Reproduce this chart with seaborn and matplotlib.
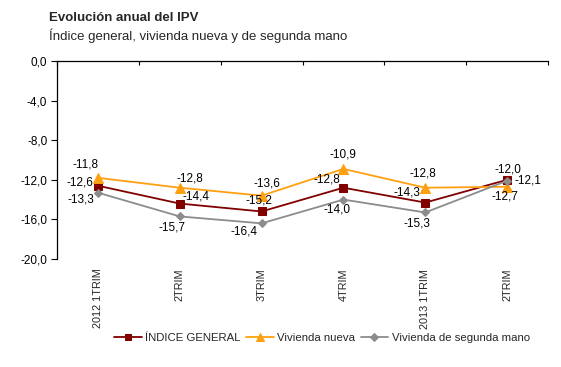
import matplotlib
matplotlib.use("Agg")
import matplotlib.pyplot as plt
import numpy as np
import pandas as pd
import seaborn as sns

# --- data ---
trimestres = ["2012 1TRIM", "2TRIM", "3TRIM", "4TRIM", "2013 1TRIM", "2TRIM"]
series_names = ["ÍNDICE GENERAL", "Vivienda nueva", "Vivienda de segunda mano"]
indice_general = [-12.6, -14.4, -15.2, -12.8, -14.3, -12.0]
vivienda_nueva = [-11.8, -12.8, -13.6, -10.9, -12.8, -12.7]
segunda_mano = [-13.3, -15.7, -16.4, -14.0, -15.3, -12.1]
y_ticks = [0.0, -4.0, -8.0, -12.0, -16.0, -20.0]

colors = {"ÍNDICE GENERAL": "#800000",
          "Vivienda nueva": "#FFA010",
          "Vivienda de segunda mano": "#8C8C8C"}
markers = {"ÍNDICE GENERAL": "s",
           "Vivienda nueva": "^",
           "Vivienda de segunda mano": "D"}
msizes = {"ÍNDICE GENERAL": 6, "Vivienda nueva": 6.5, "Vivienda de segunda mano": 4.5}

# label offsets in pixels (dx, dy), per series per point
offsets = {
    "ÍNDICE GENERAL": [(-18, 3), (16, 7), (-3, 11), (-17, 8), (-18, 10), (1, 10)],
    "Vivienda nueva": [(-12, 13), (10, 9), (5, 12), (0, 14), (-2, 14), (-2, -10)],
    "Vivienda de segunda mano": [(-17, -7), (-8, -11), (-18, -8), (-6, -10), (-8, -11), (21, 0)],
}

sns.set_theme(style="white")
plt.rcParams["font.family"] = ["Liberation Sans", "DejaVu Sans"]

values = [indice_general, vivienda_nueva, segunda_mano]
df = pd.DataFrame({
    "x": np.tile(np.arange(len(trimestres)), len(series_names)),
    "valor": np.concatenate(values),
    "serie": np.repeat(series_names, len(trimestres)),
})

fig = plt.figure(figsize=(5.61, 3.67), dpi=100)
ax = fig.add_axes([57 / 561, 1 - 259 / 367, (548 - 57) / 561, (259 - 61) / 367])

for name in series_names:
    sub = df[df["serie"] == name]
    sns.lineplot(data=sub, x="x", y="valor", ax=ax, color=colors[name],
                 marker=markers[name], markersize=msizes[name],
                 markeredgecolor=colors[name], linewidth=1.3, label=name)
    for (xi, yi), (dx, dy) in zip(zip(sub["x"], sub["valor"]), offsets[name]):
        ax.annotate(f"{yi:.1f}".replace(".", ","), (xi, yi), xytext=(dx, dy),
                    textcoords="offset pixels", ha="center", va="center",
                    fontsize=8.5, color="black")

ax.set_xlim(-0.5, len(trimestres) - 0.5)
ax.set_ylim(-20, 0)
ax.set_yticks(y_ticks)
ax.set_yticklabels([f"{v:.1f}".replace(".", ",") for v in y_ticks], fontsize=8.5)
ax.tick_params(axis="y", direction="out", length=4, width=0.8, left=True,
               pad=3, colors="black")

ax.set_xticks(np.arange(len(trimestres)))
ax.set_xticklabels(trimestres, rotation=90, fontsize=7.8, va="top")
ax.tick_params(axis="x", which="major", length=0, pad=7)
ax.set_xticks(np.arange(len(trimestres) + 1) - 0.5, minor=True)
ax.tick_params(axis="x", which="minor", top=True, bottom=False,
               direction="in", length=3, width=0.8, color="black")

ax.set_xlabel("")
ax.set_ylabel("")
for side in ["right", "bottom"]:
    ax.spines[side].set_visible(False)
for side in ["left", "top"]:
    ax.spines[side].set_color("black")
    ax.spines[side].set_linewidth(0.9)

handles, labels = ax.get_legend_handles_labels()
ax.get_legend().remove()
fig.legend(handles, labels, loc="center", bbox_to_anchor=(322 / 561, 1 - 338 / 367),
           ncol=3, frameon=False, fontsize=8.2, handlelength=2.4, markerscale=0.8,
           handletextpad=0.3, columnspacing=0.5)

fig.text(49 / 561, 1 - 18 / 367, "Evolución anual del IPV", fontsize=9.5,
         fontweight="bold", va="center", ha="left")
fig.text(49 / 561, 1 - 36 / 367, "Índice general, vivienda nueva y de segunda mano",
         fontsize=9.5, va="center", ha="left")

fig.savefig("out.png", dpi=100)
